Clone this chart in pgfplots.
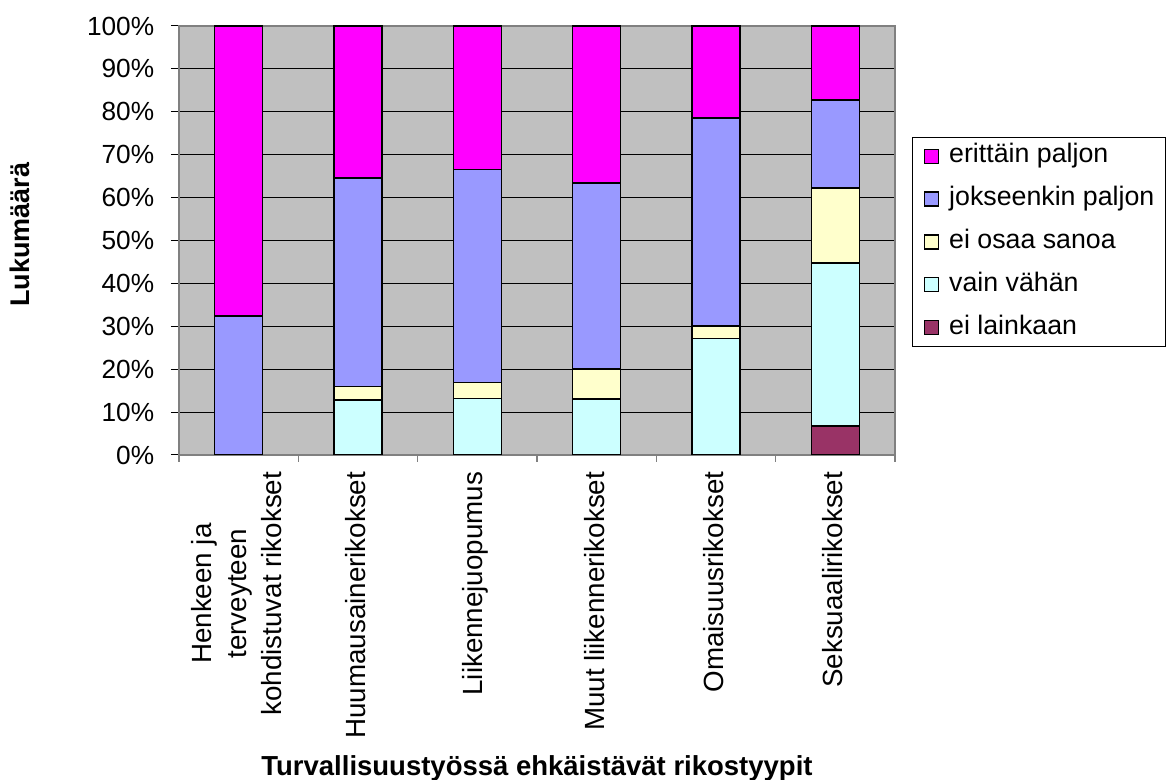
\documentclass[border=0pt]{standalone}
\usepackage{fontspec}
\setmainfont{Liberation Sans}
\usepackage{pgfplots}
\pgfplotsset{compat=1.18}

\definecolor{plotbg}{HTML}{C0C0C0}
\definecolor{frame}{HTML}{808080}
\definecolor{cPaljon}{HTML}{FF00FF}
\definecolor{cJokseenkin}{HTML}{9999FF}
\definecolor{cEiOsaa}{HTML}{FFFFCC}
\definecolor{cVahan}{HTML}{CCFFFF}
\definecolor{cEiLainkaan}{HTML}{993366}

\begin{document}
\begin{tikzpicture}
\useasboundingbox (-71.6pt,-130pt) rectangle (395.2pt,182pt);
\begin{axis}[
  at={(0,0)}, anchor=south west,
  scale only axis,
  width=286.4pt, height=171.6pt,
  ybar stacked,
  bar width=19.2pt,
  xmin=-0.5, xmax=5.5,
  ymin=0, ymax=100,
  axis background/.style={fill=plotbg},
  axis line style={draw=frame, line width=0.5pt},
  tick pos=left,
  tick align=outside,
  major tick length=3.2pt,
  minor tick length=2.8pt,
  xtick={0,...,5},
  xtick style={draw=none},
  minor xtick={-0.5,0.5,...,5.5},
  minor x tick style={draw=frame, line width=0.5pt},
  xticklabels={{Henkeen ja\\terveyteen\\kohdistuvat rikokset},
    Huumausainerikokset, Liikennejuopumus, Muut liikennerikokset,
    Omaisuusrikokset, Seksuaalirikokset},
  xticklabel style={rotate=90, anchor=east, align=center, yshift=1pt,
    font=\fontsize{11.1pt}{14pt}\selectfont},
  ytick={0,10,...,100},
  y tick style={draw=black, line width=0.4pt},
  yticklabel={\pgfmathprintnumber{\tick}\%},
  yticklabel style={font=\fontsize{10.5pt}{12pt}\selectfont, xshift=-3.2pt},
  /pgf/number format/assume math mode=true,
  ymajorgrids,
  major grid style={draw=black, line width=0.4pt},
  xlabel={Turvallisuustyössä ehkäistävät rikostyypit},
  xlabel style={at={(axis description cs:0.5,-0.746)}, anchor=base,
    font=\bfseries\fontsize{11pt}{13pt}\selectfont},
  ylabel={Lukumäärä},
  ylabel style={at={(axis description cs:-0.222,0.513)}, anchor=center,
    rotate=0, font=\bfseries\fontsize{10.8pt}{13pt}\selectfont},
  every axis plot/.append style={draw=black, line width=0.6pt},
  legend image code/.code={\draw[#1, line width=0.5pt] (0pt,-2.8pt) rectangle (5.6pt,2.8pt);},
  reverse legend,
  legend cell align=left,
  legend style={at={(axis description cs:1.0237,0.7413)}, anchor=north west,
    draw=black, line width=0.4pt, fill=white,
    font=\fontsize{10.7pt}{12pt}\selectfont,
    inner xsep=4.6pt, inner ysep=2.6pt,
    nodes={inner sep=0pt, text height=7.6pt, text depth=2.2pt},
    row sep=7.35pt,
    /tikz/column 1/.style={column sep=4.0pt},
    cells={anchor=west}},
]
% shares per category, stacked from the bottom up
\addplot[fill=cEiLainkaan] coordinates {(0,0) (1,0) (2,0) (3,0) (4,0) (5,6.8)};
\addlegendentry{ei lainkaan}
\addplot[fill=cVahan] coordinates {(0,0) (1,12.8) (2,13.2) (3,13.1) (4,27.2) (5,38.0)};
\addlegendentry{vain vähän}
\addplot[fill=cEiOsaa] coordinates {(0,0) (1,3.2) (2,3.7) (3,6.9) (4,2.9) (5,17.4)};
\addlegendentry{ei osaa sanoa}
\addplot[fill=cJokseenkin] coordinates {(0,32.4) (1,48.6) (2,49.7) (3,43.4) (4,48.5) (5,20.5)};
\addlegendentry{jokseenkin paljon}
\addplot[fill=cPaljon] coordinates {(0,67.6) (1,35.4) (2,33.4) (3,36.6) (4,21.4) (5,17.3)};
\addlegendentry{erittäin paljon}
\end{axis}
\end{tikzpicture}
\end{document}
